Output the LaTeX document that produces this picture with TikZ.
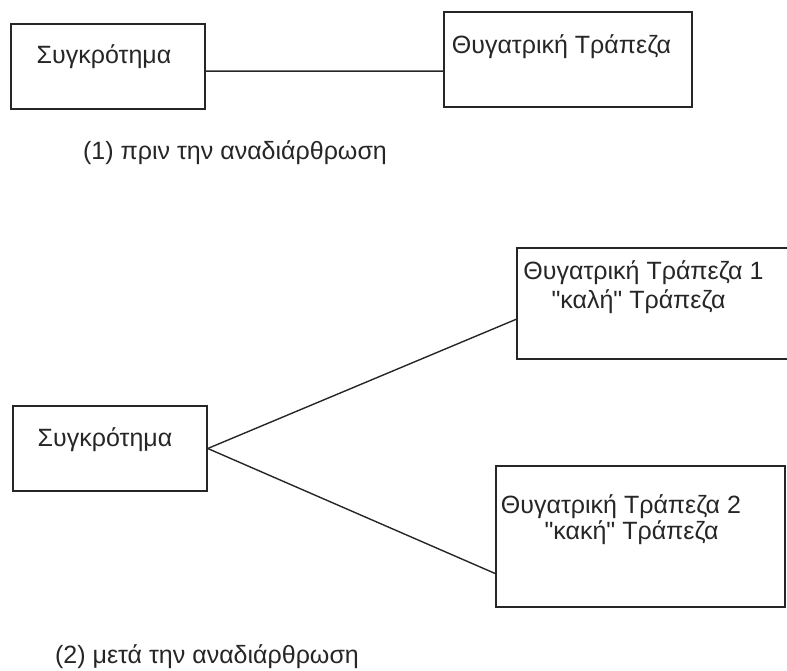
\documentclass[tikz,border=0pt]{standalone}
\usepackage{fontspec}
\setmainfont{Liberation Sans}
\usetikzlibrary{positioning,calc}

\begin{document}
\begin{tikzpicture}
		[x=1pt,y=-1pt,every node/.style={font=\fontsize{25}{28}\selectfont,text=black!85},
		box/.style={draw=black!85,line width=1.5pt,inner sep=0pt},
		edge/.style={draw=black!85,line width=1.4pt}]
		\useasboundingbox (0,0) rectangle (787,671);
		% (1) before
		\node[box,minimum width=194,minimum height=85] (grA) at (108,66.5) {};
		\node[box,minimum width=248,minimum height=95] (daB) at (568,59.5) {};
		\node (tA) at (104,57) {Συγκρότημα};
		\node (tB) at (561.5,47) {Θυγατρική Τράπεζα};
		\node (cap1) at (235,153) {(1) πριν την αναδιάρθρωση};
		
		% (2) after
		\node[box,minimum width=194,minimum height=85] (grC) at (110,448.5) {};
		\node[box,minimum width=273,minimum height=111] (daE) at (653.5,303.5) {};
		\node[box,minimum width=289,minimum height=141] (daD) at (640.5,536.5) {};
		\node (tC) at (105,440) {Συγκρότημα};
		\node (tE1) at (643.5,273) {Θυγατρική Τράπεζα 1};
		\node (tE2) at (638.5,302) {\textquotedbl καλή\textquotedbl{} Τράπεζα};
		\node (tD1) at (621,507) {Θυγατρική Τράπεζα 2};
		\node (tD2) at (631.5,533) {\textquotedbl κακή\textquotedbl{} Τράπεζα};
		\node (cap2) at (207,657) {(2) μετά την αναδιάρθρωση};
		
		\draw[edge] ($(grA.north east)!0.553!(grA.south east)$) -- ($(daB.north west)!0.621!(daB.south west)$);
		\draw[edge] (grC.east) -- ($(daE.north west)!0.64!(daE.south west)$);
		\draw[edge] (grC.east) -- ($(daD.north west)!0.76!(daD.south west)$);
		\end{tikzpicture}
\end{document}
